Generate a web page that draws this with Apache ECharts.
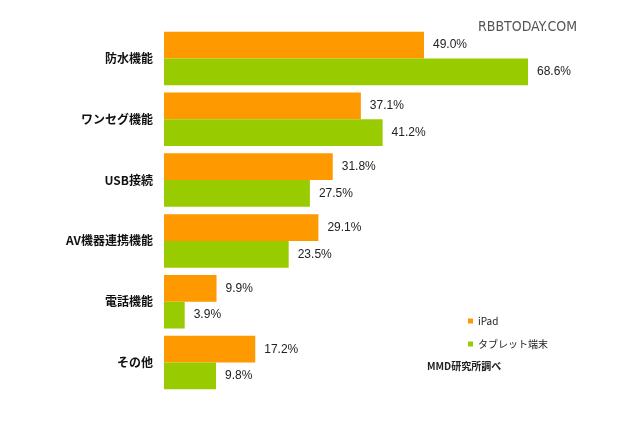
<!DOCTYPE html>
<html><head><meta charset="utf-8">
<script src="https://cdn.jsdelivr.net/npm/echarts@6/dist/echarts.min.js"></script>
<style>html,body{margin:0;padding:0;background:#fff}#c{width:640px;height:426px}</style>
</head><body><div id="c"></div>
<script>
const categories = ['防水機能','ワンセグ機能','USB接続','AV機器連携機能','電話機能','その他'];
const ipadValues = [49.0, 37.1, 31.8, 29.1, 9.9, 17.2];
const tabletValues = [68.6, 41.2, 27.5, 23.5, 3.9, 9.8];
const seriesNames = ['iPad','タブレット端末'];

const chart = echarts.init(document.getElementById('c'), null, {renderer:'canvas'});
const lbl = {show:true, position:'right', distance:9, color:'#222', fontSize:12,
  fontFamily:'"Liberation Sans", Arial, sans-serif', formatter: p => p.value.toFixed(1) + '%'};
chart.setOption({
  animation:false,
  backgroundColor:'#fff',
  grid:{left:164, top:28, width:424.5, height:365},
  xAxis:{type:'value', min:0, max:80, show:false},
  yAxis:{type:'category', data:categories, inverse:true,
    axisLine:{show:false}, axisTick:{show:false},
    axisLabel:{color:'#111', fontSize:12, fontWeight:'bold', margin:11, fontFamily:'"Noto Sans CJK JP", sans-serif'}},
  legend:{orient:'vertical', left:463, top:311, itemWidth:5, itemHeight:5, itemGap:13, icon:'rect',
    textStyle:{fontSize:10, color:'#222', fontFamily:'"Noto Sans CJK JP", sans-serif'},
    data:seriesNames},
  graphic:[
    {type:'text', left:478, top:20, style:{text:'RBBTODAY.COM', fill:'#555', fontSize:14, fontFamily:'"DejaVu Sans Condensed", "Liberation Sans Narrow", sans-serif', fontWeight:'normal'}},
    {type:'text', left:427, top:361, style:{text:'MMD研究所調べ', fill:'#222', fontSize:10, fontWeight:'bold', fontFamily:'"Noto Sans CJK JP", sans-serif'}}
  ],
  series:[
    {name:seriesNames[0], type:'bar', data:ipadValues, barGap:'0%', barCategoryGap:'12%',
     itemStyle:{color:'#FF9900'}, label:lbl},
    {name:seriesNames[1], type:'bar', data:tabletValues, barGap:'0%', barCategoryGap:'12%',
     itemStyle:{color:'#99CC00'}, label:lbl}
  ]
});
</script></body></html>
